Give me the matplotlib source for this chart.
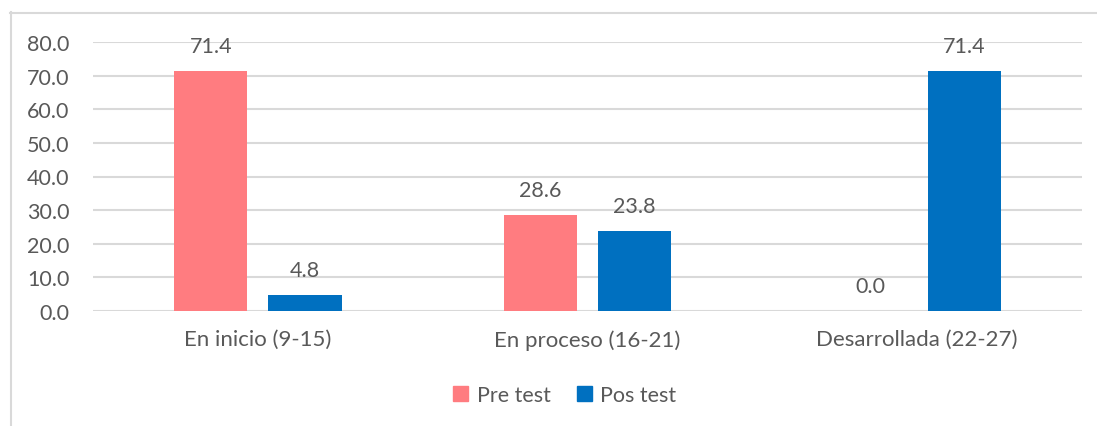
import matplotlib
matplotlib.use("Agg")
import matplotlib.pyplot as plt
import numpy as np
from matplotlib.lines import Line2D

categories = ["En inicio (9-15)", "En proceso (16-21)", "Desarrollada (22-27)"]
series_names = ["Pre test", "Pos test"]
pre_test = [71.4, 28.6, 0.0]
pos_test = [4.8, 23.8, 71.4]
yticks = [0, 10, 20, 30, 40, 50, 60, 70, 80]

plt.rcParams['font.family'] = ['Lato', 'DejaVu Sans']
TXT = '#595959'
GRID = '#D9D9D9'
colors = ['#FF7C80', '#0070C0']

W, H = 1097, 427
fig = plt.figure(figsize=(W/100, H/100), dpi=100)
ax = fig.add_axes([93/W, 1-312/H, (1082-93)/W, (312-43)/H])

x = np.arange(len(categories))
bw = 0.223
off = 0.143
for vals, name, c, d in [(pre_test, series_names[0], colors[0], -off), (pos_test, series_names[1], colors[1], off)]:
    ax.bar(x + d, vals, width=bw, color=c, label=name, zorder=3)
    for xi, v in zip(x + d, vals):
        ax.annotate(f"{v:.1f}", (xi, v), xytext=(0, 11), textcoords='offset points',
                    ha='center', va='bottom', fontsize=15.5, color=TXT)

ax.set_xlim(-0.5, 2.5)
ax.set_ylim(0, 80)
ax.set_yticks(yticks)
ax.set_yticklabels([f"{t:.1f}" for t in yticks], fontsize=15.5, color=TXT)
ax.set_xticks(x)
ax.set_xticklabels(categories, fontsize=16, color=TXT)
ax.tick_params(axis='both', length=0)
ax.tick_params(axis='y', pad=17)
ax.tick_params(axis='x', pad=13)
ax.grid(axis='y', color=GRID, linewidth=1.5, zorder=0)
for s in ax.spines.values():
    s.set_visible(False)

fig.legend(handles=[plt.Rectangle((0, 0), 1, 1, color=c) for c in colors],
           labels=series_names, loc='center', bbox_to_anchor=(565/W, 1-396/H),
           ncol=2, frameon=False, fontsize=15.5, handlelength=0.7, handleheight=0.7,
           handletextpad=0.4, columnspacing=1.2, labelcolor=TXT)

# outer chart frame
fig.add_artist(Line2D([10.5/W, 10.5/W], [0, 1-13/H], transform=fig.transFigure, color=GRID, lw=1.5))
fig.add_artist(Line2D([10/W, 1], [1-13.5/H, 1-13.5/H], transform=fig.transFigure, color=GRID, lw=1.5))

fig.savefig("out.png", dpi=100)
